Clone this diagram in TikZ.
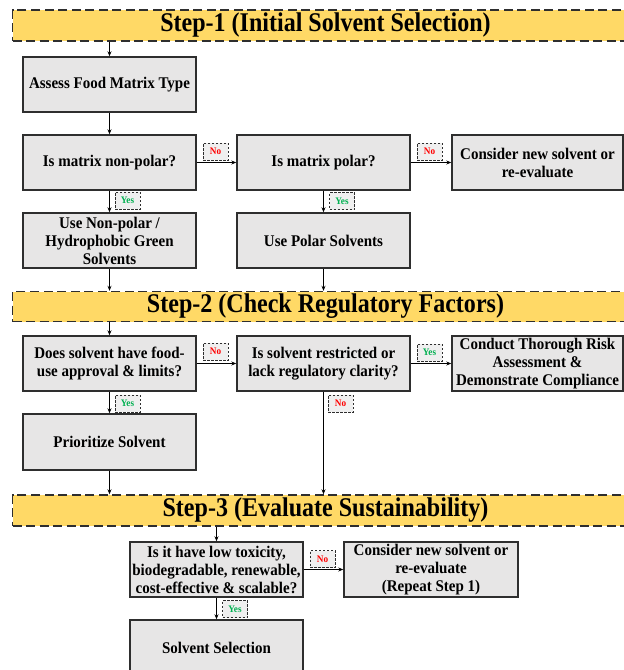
\documentclass[tikz,border=0pt]{standalone}
\usepackage{fontspec}
\setmainfont{Liberation Serif}
\newfontfamily\boxfont[FakeStretch=0.92]{Liberation Serif}
\newfontfamily\bannerfont[FakeStretch=0.89]{Liberation Serif}
\usetikzlibrary{arrows.meta}
\definecolor{bannerfill}{HTML}{FFD966}
\definecolor{boxfill}{HTML}{E7E6E6}
\definecolor{tagfill}{HTML}{EFEFEF}
\definecolor{edge}{HTML}{2E2E2E}
\definecolor{nored}{HTML}{FF0000}
\definecolor{yesgreen}{HTML}{00B050}
\begin{document}
\begin{tikzpicture}[x=1pt,y=-1pt,
  banner/.style={draw=edge, line width=1.4pt, dash pattern=on 9pt off 4.5pt, fill=bannerfill, minimum width=626pt, minimum height=31pt, inner sep=0pt, font=\bannerfont\fontsize{27}{30}\selectfont\bfseries},
  box/.style={draw=edge, line width=1.4pt, fill=boxfill, minimum width=173pt, minimum height=55pt, inner sep=0pt, align=center, font=\boxfont\fontsize{16.3}{18}\selectfont\bfseries},
  tag/.style={draw=edge, line width=0.9pt, dash pattern=on 2.5pt off 1.5pt, fill=tagfill, minimum width=25pt, minimum height=17pt, inner sep=0pt, font=\boxfont\fontsize{10}{11}\selectfont\bfseries},
  notag/.style={tag, text=nored},
  yestag/.style={tag, text=yesgreen},
  arr/.style={draw=black, line width=0.9pt, -{Stealth[length=5pt,width=4pt]}},
]
\clip (0,0) rectangle (624,670);
\fill[white] (0,0) rectangle (624,670);

% banners
\node[banner] (s1) at (325.5,25.5) {Step-1 (Initial Solvent Selection)};
\node[banner, minimum height=30pt] (s2) at (325.5,306.5) {Step-2 (Check Regulatory Factors)};
\node[banner] (s3) at (325.5,510.5) {Step-3 (Evaluate Sustainability)};

% step 1
\node[box] (assess) at (109.5,84.5) {Assess Food Matrix Type};
\node[box] (q1) at (109.5,162.5) {Is matrix non-polar?};
\node[box] (q2) at (323.5,162.5) {Is matrix polar?};
\node[box, minimum width=171pt] (c1) at (537.5,162.5) {Consider new solvent or\\re-evaluate};
\node[box] (usenp) at (109.5,240.5) {Use Non-polar /\\Hydrophobic Green\\Solvents};
\node[box] (usep) at (323.5,240.5) {Use Polar Solvents};

% step 2
\node[box] (food) at (109.5,363.5) {Does solvent have food-\\use approval \& limits?};
\node[box] (restr) at (323.5,363.5) {Is solvent restricted or\\lack regulatory clarity?};
\node[box, minimum width=171pt] (risk) at (537.5,363.5) {Conduct Thorough Risk\\Assessment \&\\Demonstrate Compliance};
\node[box, minimum height=56pt] (prio) at (109.5,442) {Prioritize Solvent};

% step 3
\node[box] (sust) at (216.5,569.5) {Is it have low toxicity,\\biodegradable, renewable,\\cost-effective \& scalable?};
\node[box, minimum width=174pt] (c2) at (431,569.5) {Consider new solvent or\\re-evaluate\\(Repeat Step 1)};
\node[box, minimum height=56pt] (sel) at (216.5,648) {Solvent Selection};

% tags
\node[notag] (n1) at (215.5,151.5) {No};
\node[notag] (n2) at (429.5,151.5) {No};
\node[yestag] (y1) at (127.5,200.5) {Yes};
\node[yestag] (y2) at (342,201) {Yes};
\node[notag] (n3) at (215.5,351.5) {No};
\node[yestag] (y3) at (429.5,352.5) {Yes};
\node[yestag] (y4) at (127.5,403.5) {Yes};
\node[notag] (n4) at (340.5,403.5) {No};
\node[notag] (n5) at (322.5,559) {No};
\node[yestag] (y5) at (235,609) {Yes};

% connectors
\draw[arr] (assess.north |- s1.south) -- (assess.north);
\draw[arr] (assess) -- (q1);
\draw[arr] (q1) -- (q2);
\draw[arr] (q2) -- (c1);
\draw[arr] (q1) -- (usenp);
\draw[arr] (q2) -- (usep);
\draw[arr] (usenp.south) -- (usenp.south |- s2.north);
\draw[arr] (usep.south) -- (usep.south |- s2.north);
\draw[arr] (food.north |- s2.south) -- (food.north);
\draw[arr] (food) -- (restr);
\draw[arr] (restr) -- (risk);
\draw[arr] (food) -- (prio);
\draw[arr] (prio.south) -- (prio.south |- s3.north);
\draw[arr] (restr.south) -- (restr.south |- s3.north);
\draw[arr] (sust.north |- s3.south) -- (sust.north);
\draw[arr] (sust) -- (c2);
\draw[arr] (sust) -- (sel);
\end{tikzpicture}
\end{document}
